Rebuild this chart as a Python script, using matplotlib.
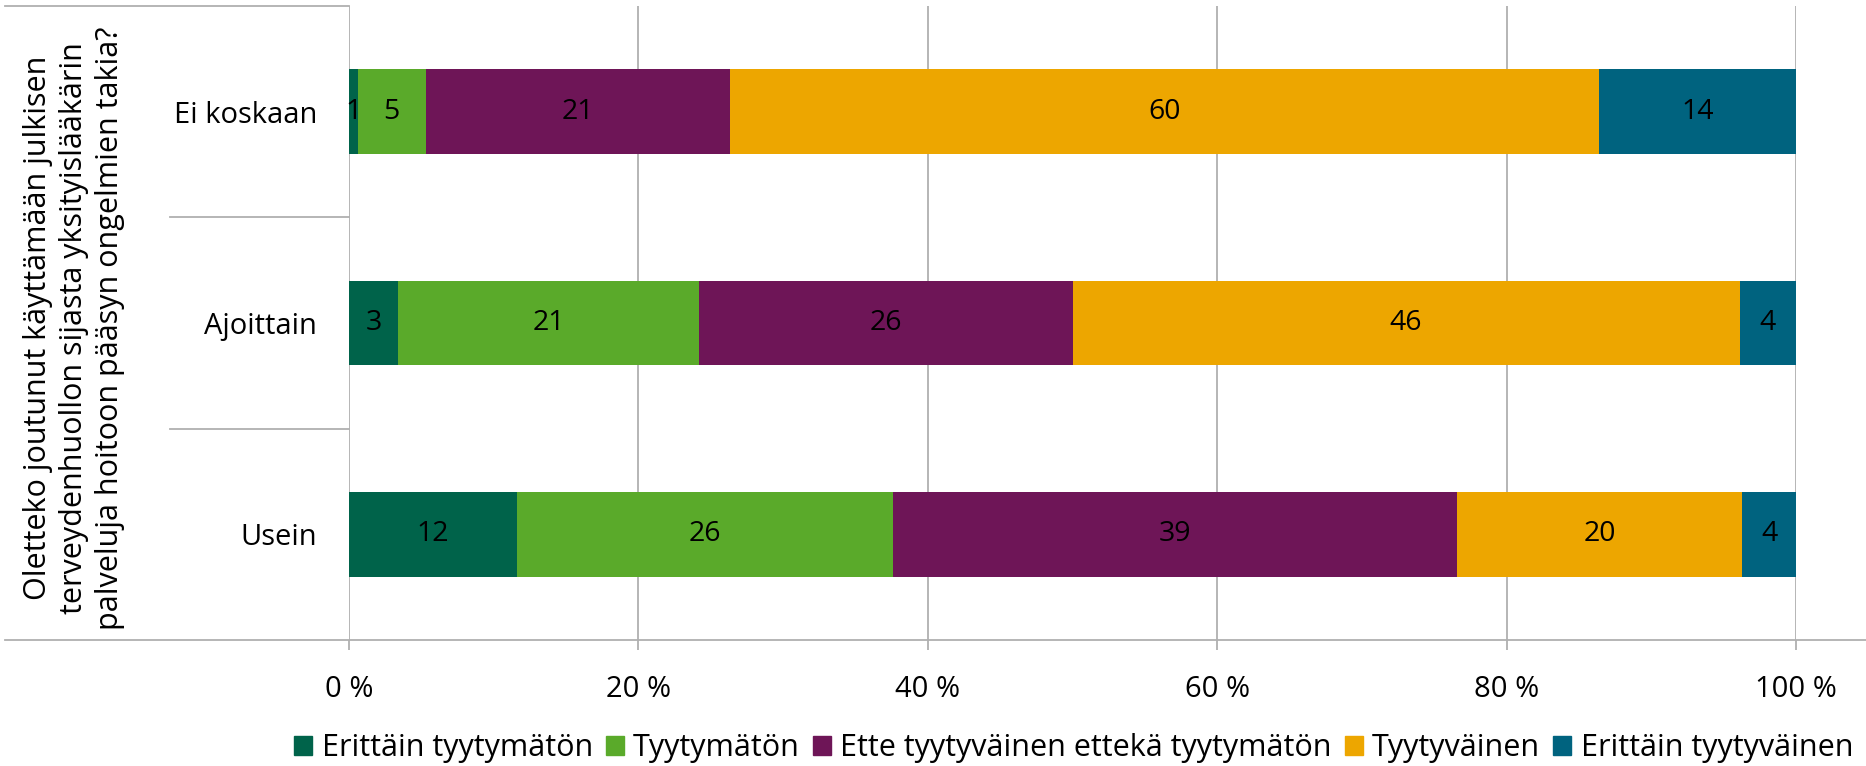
import matplotlib
matplotlib.use("Agg")
import matplotlib.pyplot as plt
from matplotlib.patches import Patch
import matplotlib.transforms as mtransforms

categories = ["Ei koskaan", "Ajoittain", "Usein"]
series_names = ["Erittäin tyytymätön", "Tyytymätön", "Ette tyytyväinen ettekä tyytymätön",
                "Tyytyväinen", "Erittäin tyytyväinen"]
erittain_tyytymaton = [0.6, 3.4, 11.6]
tyytymaton = [4.7, 20.8, 26.0]
neutraali = [21.0, 25.8, 39.0]
tyytyvainen = [60.1, 46.1, 19.7]
erittain_tyytyvainen = [13.6, 3.9, 3.7]
labels_shown = [[1, 5, 21, 60, 14], [3, 21, 26, 46, 4], [12, 26, 39, 20, 4]]
xtick_vals = [0, 20, 40, 60, 80, 100]
xtick_labels = ["0 %", "20 %", "40 %", "60 %", "80 %", "100 %"]
axis_title = "Oletteko joutunut käyttämään julkisen\nterveydenhuollon sijasta yksityislääkärin\npalveluja hoitoon pääsyn ongelmien takia?"

colors = ["#00634A", "#5AAA2A", "#6E1557", "#EDA600", "#00637F"]
series = [erittain_tyytymaton, tyytymaton, neutraali, tyytyvainen, erittain_tyytyvainen]

font = ["Open Sans", "DejaVu Sans"]
plt.rcParams["font.family"] = font

W, H = 1866, 766
fig = plt.figure(figsize=(W / 100, H / 100), dpi=100)
L, R, T, B = 349, 1796, 6, 640
ax = fig.add_axes([L / W, 1 - B / H, (R - L) / W, (B - T) / H])

ypos = list(range(len(categories)))
left = [0.0] * len(categories)
for vals, col in zip(series, colors):
    ax.barh(ypos, vals, left=left, height=0.4, color=col, zorder=3)
    left = [a + b for a, b in zip(left, vals)]

# data labels
for i in range(len(categories)):
    acc = 0.0
    for j, vals in enumerate(series):
        v = vals[i]
        ax.text(acc + v / 2, i, str(labels_shown[i][j]), ha="center", va="center",
                fontsize=20.5, color="black", zorder=4)
        acc += v

ax.set_xlim(0, 100)
ax.set_ylim(2.5, -0.5)
for s in ax.spines.values():
    s.set_visible(False)
gridc = "#B0B0B0"
ax.set_xticks(xtick_vals)
ax.set_xticklabels(xtick_labels, fontsize=21)
ax.tick_params(axis="x", length=7, color=gridc, width=1.3, pad=18)
ax.xaxis.grid(True, color=gridc, linewidth=1.3, zorder=0)
ax.set_yticks(ypos)
ax.set_yticklabels(categories, fontsize=21)
ax.tick_params(axis="y", length=0, pad=23)

# axis lines
trans = mtransforms.blended_transform_factory(ax.transAxes, ax.transData)
w_ax = (R - L)
ax.plot([(5 - L) / w_ax, (W - L) / w_ax], [2.5, 2.5], transform=trans, color=gridc,
        lw=1.3, clip_on=False, zorder=2)
ax.plot([(5 - L) / w_ax, 0], [-0.5, -0.5], transform=trans, color=gridc,
        lw=1.3, clip_on=False, zorder=2)
for yv in [0.5, 1.5]:
    ax.plot([(170 - L) / w_ax, 0], [yv, yv], transform=trans, color=gridc,
            lw=1.3, clip_on=False, zorder=2)

fig.text(74 / W, 1 - 328 / H, axis_title, rotation=90, ha="center", va="center",
         fontsize=22, linespacing=1.27, multialignment="center")

handles = [Patch(facecolor=c, edgecolor=c) for c in colors]
fig.legend(handles, series_names, loc="center left", bbox_to_anchor=(294 / W, 1 - 748 / H),
           ncol=5, frameon=False, prop={"size": 22},
           handlelength=0.6, handleheight=0.6, handletextpad=0.3, columnspacing=0.42,
           borderaxespad=0, borderpad=0)

fig.savefig("out.png", dpi=100)
